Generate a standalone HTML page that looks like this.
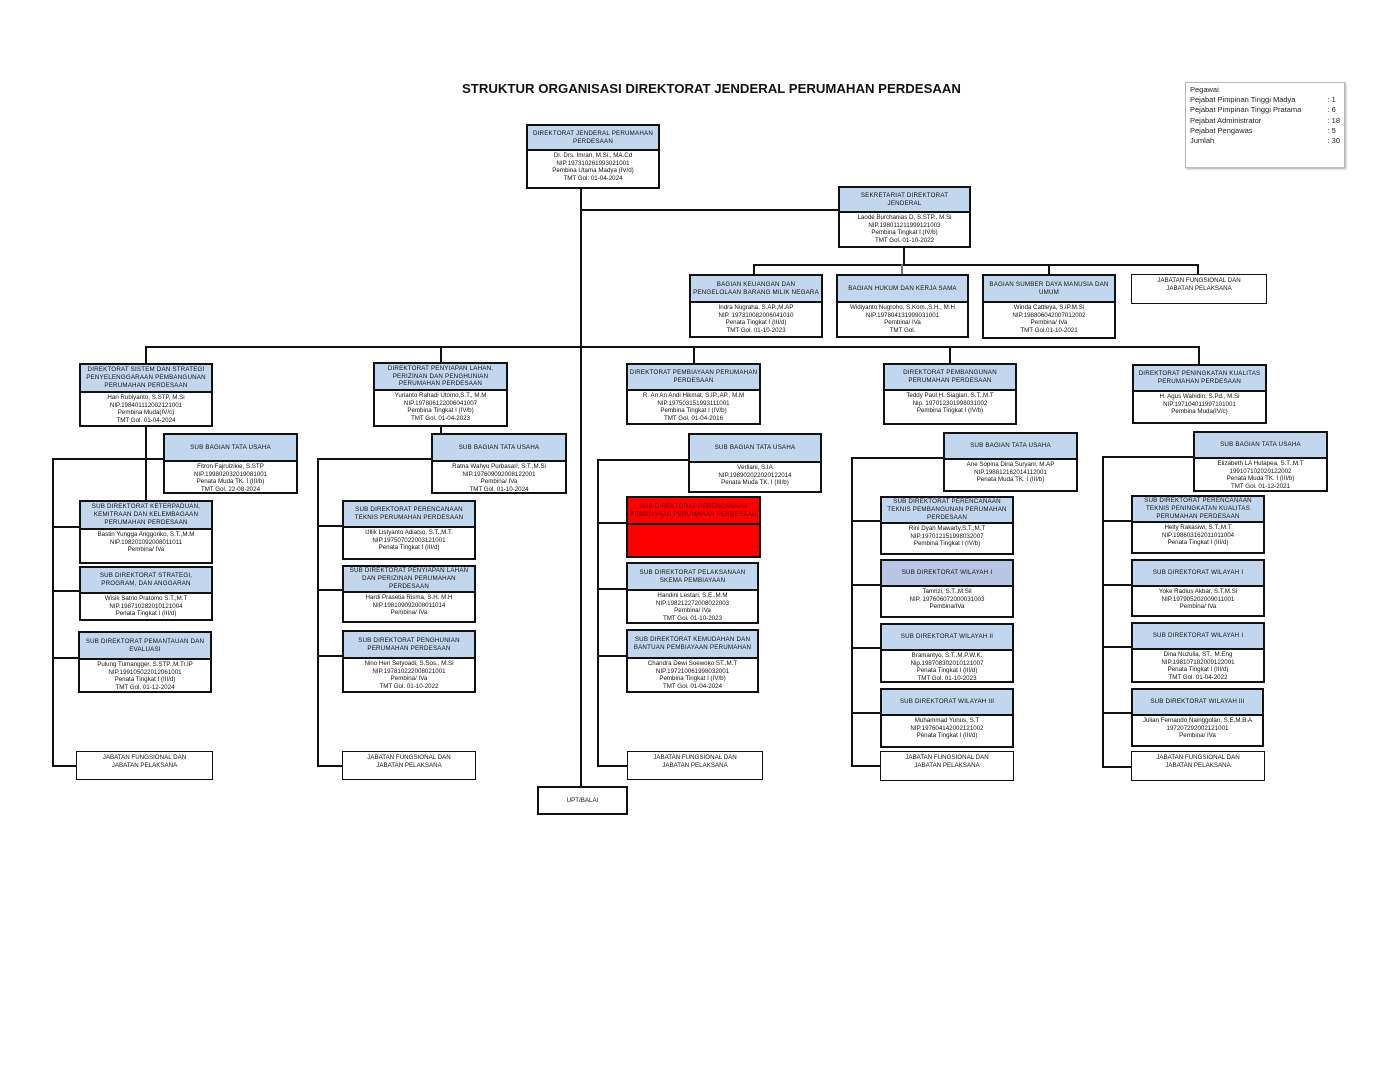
<!DOCTYPE html>
<html><head><meta charset="utf-8"><style>
body{margin:0;width:1398px;height:1080px;background:#fff;position:relative;overflow:hidden;font-family:"Liberation Sans",sans-serif}
.b{position:absolute;box-sizing:border-box;border:2px solid #111;background:#fff;font-size:6.2px;line-height:7.7px;text-align:center;color:#111;overflow:hidden}
.h{background:#c2d6ee;border-bottom:2px solid #111;box-sizing:border-box;display:flex;align-items:center;justify-content:center;padding:0 1px;letter-spacing:.2px}
.t{padding-top:1px}
.l{position:absolute;background:#111}
.v{width:2px}.hz{height:2px}
</style></head><body>
<div style="position:absolute;left:462px;top:81px;font-size:13.2px;font-weight:bold;color:#111">STRUKTUR ORGANISASI DIREKTORAT JENDERAL PERUMAHAN PERDESAAN</div>
<div style="position:absolute;left:1185px;top:82px;width:160px;height:86px;border:1px solid #bbb;box-shadow:1px 1px 2px #aaa;font-size:7.5px;line-height:10.2px;padding:2px 4px;box-sizing:border-box;color:#222">
Pegawai<br>
<div style="display:flex;justify-content:space-between"><span>Pejabat Pimpinan Tinggi Madya</span><span>: 1&nbsp;&nbsp;</span></div>
<div style="display:flex;justify-content:space-between"><span>Pejabat Pimpinan Tinggi Pratama</span><span>: 6&nbsp;&nbsp;</span></div>
<div style="display:flex;justify-content:space-between"><span>Pejabat Administrator</span><span>: 18</span></div>
<div style="display:flex;justify-content:space-between"><span>Pejabat Pengawas</span><span>: 5&nbsp;&nbsp;</span></div>
<div style="display:flex;justify-content:space-between"><span>Jumlah</span><span>: 30</span></div>
</div>

<!-- lines -->
<div class="l v" style="left:580px;top:188px;height:600px"></div>
<div class="l hz" style="left:581px;top:209px;width:258px"></div>
<div class="l v" style="left:903px;top:247px;height:18px"></div>
<div class="l hz" style="left:753px;top:264px;width:446px"></div>
<div class="l v" style="left:753px;top:264px;height:10px"></div>
<div class="l v" style="left:901px;top:264px;height:10px;background:#777"></div>
<div class="l v" style="left:1048px;top:264px;height:10px"></div>
<div class="l v" style="left:1197px;top:264px;height:10px"></div>
<div class="l hz" style="left:145px;top:346px;width:1054px"></div>
<div class="l v" style="left:145px;top:346px;height:18px"></div>
<div class="l v" style="left:440px;top:346px;height:17px"></div>
<div class="l v" style="left:693px;top:346px;height:18px"></div>
<div class="l v" style="left:949px;top:346px;height:18px"></div>
<div class="l v" style="left:1198px;top:346px;height:18px"></div>
<!-- D1 -->
<div class="l v" style="left:145px;top:426px;height:75px"></div>
<div class="l v" style="left:52px;top:458px;height:309px"></div>
<div class="l hz" style="left:52px;top:458px;width:112px"></div>
<div class="l hz" style="left:52px;top:526px;width:28px"></div>
<div class="l hz" style="left:52px;top:590px;width:28px"></div>
<div class="l hz" style="left:52px;top:657px;width:28px"></div>
<div class="l hz" style="left:52px;top:765px;width:25px"></div>
<!-- D2 -->
<div class="l v" style="left:440px;top:426px;height:8px"></div>
<div class="l v" style="left:317px;top:458px;height:309px"></div>
<div class="l hz" style="left:317px;top:458px;width:115px"></div>
<div class="l hz" style="left:317px;top:525px;width:26px"></div>
<div class="l hz" style="left:317px;top:589px;width:26px"></div>
<div class="l hz" style="left:317px;top:655px;width:26px"></div>
<div class="l hz" style="left:317px;top:765px;width:26px"></div>
<!-- D3 -->
<div class="l v" style="left:597px;top:459px;height:308px"></div>
<div class="l hz" style="left:597px;top:459px;width:92px"></div>
<div class="l hz" style="left:597px;top:522px;width:30px"></div>
<div class="l hz" style="left:597px;top:588px;width:30px"></div>
<div class="l hz" style="left:597px;top:655px;width:30px"></div>
<div class="l hz" style="left:597px;top:765px;width:30px"></div>
<!-- D4 -->
<div class="l v" style="left:851px;top:457px;height:310px"></div>
<div class="l hz" style="left:851px;top:457px;width:93px"></div>
<div class="l hz" style="left:851px;top:520px;width:30px"></div>
<div class="l hz" style="left:851px;top:584px;width:30px"></div>
<div class="l hz" style="left:851px;top:647px;width:30px"></div>
<div class="l hz" style="left:851px;top:712px;width:30px"></div>
<div class="l hz" style="left:851px;top:765px;width:30px"></div>
<!-- D5 -->
<div class="l v" style="left:1102px;top:456px;height:312px"></div>
<div class="l hz" style="left:1102px;top:456px;width:92px"></div>
<div class="l hz" style="left:1102px;top:520px;width:30px"></div>
<div class="l hz" style="left:1102px;top:584px;width:30px"></div>
<div class="l hz" style="left:1102px;top:646px;width:30px"></div>
<div class="l hz" style="left:1102px;top:712px;width:30px"></div>
<div class="l hz" style="left:1102px;top:766px;width:30px"></div>

<!-- top -->
<div class="b" style="left:526px;top:124px;width:134px;height:65px"><div class="h" style="height:25px">DIREKTORAT JENDERAL PERUMAHAN PERDESAAN</div><div class="t">Dr. Drs. Imran, M.Si., MA.Cd<br>NIP.197310261993021001<br>Pembina Utama Madya (IV/d)<br>TMT Gol. 01-04-2024</div></div>
<div class="b" style="left:838px;top:186px;width:133px;height:62px"><div class="h" style="height:25px;padding:0 18px">SEKRETARIAT DIREKTORAT JENDERAL</div><div class="t">Laode Burchanias D, S.STP., M.Si<br>NIP.198011211999121003<br>Pembina Tingkat I (IV/b)<br>TMT Gol. 01-10-2022</div></div>
<div class="b" style="left:689px;top:274px;width:134px;height:64px"><div class="h" style="height:27px">BAGIAN KEUANGAN DAN PENGELOLAAN BARANG MILIK NEGARA</div><div class="t">Indra Nugraha, S.AP.,M.AP<br>NIP. 197310082006041010<br>Penata Tingkat I (III/d)<br>TMT Gol. 01-10-2023</div></div>
<div class="b" style="left:836px;top:274px;width:133px;height:64px"><div class="h" style="height:27px">BAGIAN HUKUM DAN KERJA SAMA</div><div class="t">Widiyanto Nugroho, S.Kom.,S.H., M.H<br>NIP.197804131999031001<br>Pembina/ IVa<br>TMT Gol.</div></div>
<div class="b" style="left:982px;top:274px;width:134px;height:65px"><div class="h" style="height:27px">BAGIAN SUMBER DAYA MANUSIA DAN UMUM</div><div class="t">Winda Cattleya, S.IP.M.Si<br>NIP.198806042007012002<br>Pembina/ IVa<br>TMT Gol.01-10-2021</div></div>
<div class="b" style="left:1131px;top:274px;width:136px;height:30px;border-width:1.5px"><div class="t" style="padding-top:2px">JABATAN FUNGSIONAL DAN<br>JABATAN PELAKSANA</div></div>

<!-- directorates -->
<div class="b" style="left:79px;top:363px;width:134px;height:64px"><div class="h" style="height:28px">DIREKTORAT SISTEM DAN STRATEGI PENYELENGGARAAN PEMBANGUNAN PERUMAHAN PERDESAAN</div><div class="t">Hari Rubiyanto, S.STP, M.Si<br>NIP.198401112002121001<br>Pembina Muda(IV/c)<br>TMT Gol. 01-04-2024</div></div>
<div class="b" style="left:373px;top:362px;width:135px;height:65px"><div class="h" style="height:27px">DIREKTORAT PENYIAPAN LAHAN, PERIZINAN DAN PENGHUNIAN PERUMAHAN PERDESAAN</div><div class="t">Yurianto Rahadi Utomo,S.T., M.M<br>NIP.197806122006041007<br>Pembina Tingkat I (IV/b)<br>TMT Gol. 01-04-2023</div></div>
<div class="b" style="left:626px;top:363px;width:135px;height:62px"><div class="h" style="height:26px">DIREKTORAT PEMBIAYAAN PERUMAHAN PERDESAAN</div><div class="t">R. An An Andi Hikmat, S.IP.,AP., M.M<br>NIP.197503151993111001<br>Pembina Tingkat I (IV/b)<br>TMT Gol. 01-04-2016</div></div>
<div class="b" style="left:883px;top:363px;width:134px;height:62px"><div class="h" style="height:26px">DIREKTORAT PEMBANGUNAN PERUMAHAN PERDESAAN</div><div class="t">Teddy Paul H. Siagian, S.T.,M.T<br>Nip. 197012301998031002<br>Pembina Tingkat I (IV/b)</div></div>
<div class="b" style="left:1132px;top:364px;width:135px;height:60px"><div class="h" style="height:26px;padding:0 4px">DIREKTORAT PENINGKATAN KUALITAS PERUMAHAN PERDESAAN</div><div class="t">H. Agus Wahidin, S.Pd., M.Si<br>NIP.197104011997101001<br>Pembina Muda(IV/c)</div></div>

<!-- subbag -->
<div class="b" style="left:163px;top:433px;width:135px;height:61px"><div class="h" style="height:27px">SUB BAGIAN TATA USAHA</div><div class="t">Fitron Fajrulzikie, S.STP<br>NIP.199802032019081001<br>Penata Muda TK. I (III/b)<br>TMT Gol. 22-08-2024</div></div>
<div class="b" style="left:431px;top:433px;width:136px;height:61px"><div class="h" style="height:27px">SUB BAGIAN TATA USAHA</div><div class="t">Ratna Wahyu Purbasari, S.T.,M.Si<br>NIP.197609092008122001<br>Pembina/ IVa<br>TMT Gol. 01-10-2024</div></div>
<div class="b" style="left:688px;top:433px;width:134px;height:60px"><div class="h" style="height:28px">SUB BAGIAN TATA USAHA</div><div class="t">Verliani, S.IA<br>NIP.198902022020122014<br>Penata Muda TK. I (III/b)</div></div>
<div class="b" style="left:943px;top:432px;width:135px;height:60px"><div class="h" style="height:26px">SUB BAGIAN TATA USAHA</div><div class="t">Ane Sopina Dina Suryani, M.AP<br>NIP.198812162014112001<br>Penata Muda TK. I (III/b)</div></div>
<div class="b" style="left:1193px;top:431px;width:135px;height:61px"><div class="h" style="height:26px">SUB BAGIAN TATA USAHA</div><div class="t">Elizabeth LA Hutapea, S.T.,M.T<br>199107102020122002<br>Penata Muda TK. I (III/b)<br>TMT Gol. 01-12-2021</div></div>

<!-- D1 subs -->
<div class="b" style="left:79px;top:500px;width:134px;height:64px"><div class="h" style="height:28px">SUB DIREKTORAT KETERPADUAN, KEMITRAAN DAN KELEMBAGAAN PERUMAHAN PERDESAAN</div><div class="t">Bastin Yungga Anggoriko, S.T.,M.M<br>NIP.198201092008011011<br>Pembina/ IVa</div></div>
<div class="b" style="left:79px;top:566px;width:134px;height:55px"><div class="h" style="height:26px;padding:0 8px">SUB DIREKTORAT STRATEGI, PROGRAM, DAN ANGGARAN</div><div class="t">Wisik Satrio Pratomo S.T.,M.T<br>NIP.198710282010121004<br>Penata Tingkat I (III/d)</div></div>
<div class="b" style="left:78px;top:631px;width:134px;height:62px"><div class="h" style="height:27px">SUB DIREKTORAT PEMANTAUAN DAN EVALUASI</div><div class="t">Pulung Tumangger, S.STP.,M.Tr.IP<br>NIP.199105022012061001<br>Penata Tingkat I (III/d)<br>TMT Gol. 01-12-2024</div></div>
<div class="b" style="left:76px;top:751px;width:137px;height:29px;border-width:1.5px"><div class="t" style="padding-top:2px">JABATAN FUNGSIONAL DAN<br>JABATAN PELAKSANA</div></div>
<!-- D2 subs -->
<div class="b" style="left:342px;top:500px;width:134px;height:60px"><div class="h" style="height:26px">SUB DIREKTORAT PERENCANAAN TEKNIS PERUMAHAN PERDESAAN</div><div class="t">Ullik Listyanto Adiatso, S.T.,M.T.<br>NIP.197507022003121001<br>Penata Tingkat I (III/d)</div></div>
<div class="b" style="left:342px;top:565px;width:134px;height:58px"><div class="h" style="height:26px">SUB DIREKTORAT PENYIAPAN LAHAN DAN PERIZINAN PERUMAHAN PERDESAAN</div><div class="t">Hardi Prasetia Risma, S.H. M.H<br>NIP.198109092008011014<br>Pembina/ IVa</div></div>
<div class="b" style="left:342px;top:630px;width:134px;height:63px"><div class="h" style="height:27px">SUB DIREKTORAT PENGHUNIAN PERUMAHAN PERDESAAN</div><div class="t">Nino Heri Setyoadi, S.Sos., M.Si<br>NIP.197810222008021001<br>Pembina/ IVa<br>TMT Gol. 01-10-2022</div></div>
<div class="b" style="left:342px;top:751px;width:134px;height:29px;border-width:1.5px"><div class="t" style="padding-top:2px">JABATAN FUNGSIONAL DAN<br>JABATAN PELAKSANA</div></div>
<!-- D3 subs -->
<div class="b" style="left:626px;top:496px;width:135px;height:62px;background:#f00"><div class="h" style="height:27px;background:#f00;color:#600">SUB DIREKTORAT PERENCANAAN PEMBIAYAAN PERUMAHAN PERDESAAN</div></div>
<div class="b" style="left:626px;top:562px;width:133px;height:62px"><div class="h" style="height:27px">SUB DIREKTORAT PELAKSANAAN SKEMA PEMBIAYAAN</div><div class="t">Handini Lestari, S.E.,M.M<br>NIP.198212272008022003<br>Pembina/ IVa<br>TMT Gol. 01-10-2023</div></div>
<div class="b" style="left:626px;top:629px;width:133px;height:64px"><div class="h" style="height:28px">SUB DIREKTORAT KEMUDAHAN DAN BANTUAN PEMBIAYAAN PERUMAHAN</div><div class="t">Chandra Dewi Soewoko ST.,M.T<br>NIP.197210061998032001<br>Pembina Tingkat I (IV/b)<br>TMT Gol. 01-04-2024</div></div>
<div class="b" style="left:627px;top:751px;width:136px;height:29px;border-width:1.5px"><div class="t" style="padding-top:2px">JABATAN FUNGSIONAL DAN<br>JABATAN PELAKSANA</div></div>
<!-- D4 subs -->
<div class="b" style="left:880px;top:496px;width:134px;height:59px"><div class="h" style="height:26px">SUB DIREKTORAT PERENCANAAN TEKNIS PEMBANGUNAN PERUMAHAN PERDESAAN</div><div class="t">Rini Dyah Mawarty,S.T.,M.T<br>NIP.197012151998032007<br>Pembina Tingkat I (IV/b)</div></div>
<div class="b" style="left:880px;top:559px;width:134px;height:59px"><div class="h" style="height:26px;background:#b8c6e6">SUB DIREKTORAT WILAYAH I</div><div class="t">Tamrizi, S.T.,M.Sil<br>NIP. 197606072000031003<br>Pembina/IVa</div></div>
<div class="b" style="left:880px;top:623px;width:134px;height:60px"><div class="h" style="height:26px">SUB DIREKTORAT WILAYAH II</div><div class="t">Bramantyo, S.T.,M.P.W.K.<br>Nip.198708302010121007<br>Penata Tingkat I (III/d)<br>TMT Gol. 01-10-2023</div></div>
<div class="b" style="left:880px;top:688px;width:134px;height:60px"><div class="h" style="height:26px">SUB DIREKTORAT WILAYAH III</div><div class="t">Muhammad Yunus, S.T<br>NIP.197604142002121002<br>Penata Tingkat I (III/d)</div></div>
<div class="b" style="left:880px;top:751px;width:134px;height:30px;border-width:1.5px"><div class="t" style="padding-top:2px">JABATAN FUNGSIONAL DAN<br>JABATAN PELAKSANA</div></div>
<!-- D5 subs -->
<div class="b" style="left:1131px;top:495px;width:134px;height:59px"><div class="h" style="height:26px">SUB DIREKTORAT PERENCANAAN TEKNIS PENINGKATAN KUALITAS PERUMAHAN PERDESAAN</div><div class="t">Helty Rakasiwi, S.T.,M.T<br>NIP.198603162011011004<br>Penata Tingkat I (III/d)</div></div>
<div class="b" style="left:1131px;top:559px;width:134px;height:58px"><div class="h" style="height:26px">SUB DIREKTORAT WILAYAH I</div><div class="t">Yoke Radius Akbar, S.T,M.Si<br>NIP.197905202009011001<br>Pembina/ IVa</div></div>
<div class="b" style="left:1131px;top:622px;width:134px;height:61px"><div class="h" style="height:26px">SUB DIREKTORAT WILAYAH I</div><div class="t">Dina Nuzulia, ST., M.Eng<br>NIP.198107182009122001<br>Penata Tingkat I (III/d)<br>TMT Gol. 01-04-2022</div></div>
<div class="b" style="left:1131px;top:688px;width:133px;height:59px"><div class="h" style="height:26px">SUB DIREKTORAT WILAYAH III</div><div class="t">Julian Fernando Nainggolan, S.E,M.B.A<br>197207292002121001<br>Pembina/ IVa</div></div>
<div class="b" style="left:1131px;top:751px;width:134px;height:30px;border-width:1.5px"><div class="t" style="padding-top:2px">JABATAN FUNGSIONAL DAN<br>JABATAN PELAKSANA</div></div>

<div class="b" style="left:537px;top:786px;width:91px;height:29px"><div class="t" style="padding-top:9px">UPT/BALAI</div></div>
</body></html>
